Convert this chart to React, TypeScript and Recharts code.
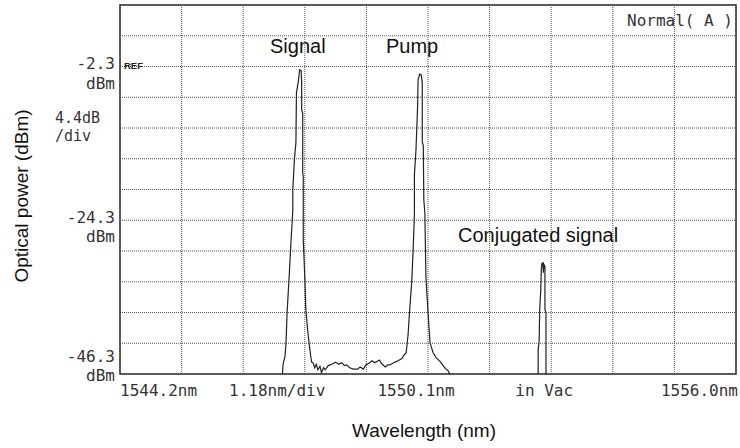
import { CartesianGrid, Line, LineChart, ReferenceArea, XAxis, YAxis } from 'recharts';

// OSA screen: 1544.2 .. 1556.0 nm, 1.18 nm/div ; ref -2.3 dBm, 4.4 dB/div
const X_TICKS = [1544.2, 1545.38, 1546.56, 1547.74, 1548.92, 1550.1, 1551.28, 1552.46, 1553.64, 1554.82, 1556.0];
const X_TICK_LABELS = ['1544.2nm', '', '1.18nm/div', '', '', '1550.1nm', '', 'in Vac', '', '', '1556.0nm'];
const Y_TICKS = [-46.3, -41.9, -37.5, -33.1, -28.7, -24.3, -19.9, -15.5, -11.1, -6.7, -2.3, 2.1, 6.5];
const Y_LABEL_VALUES = [-2.3, -24.3, -46.3];
const REF_LEVEL = -2.3;
const SCALE_TICK = -11.1;
const SCALE_LABEL = ['4.4dB', '/div'];

// [wavelength nm, power dBm]; -48 = under the bottom of the screen
const SIGNAL_PEAK: [number, number][] = [
  [1544.2, -48],
  [1547.3, -48],
  [1547.32, -45.3],
  [1547.33, -44.7],
  [1547.36, -43.8],
  [1547.38, -41.9],
  [1547.4, -37.6],
  [1547.44, -32.4],
  [1547.48, -26.8],
  [1547.51, -22.9],
  [1547.51, -20.0],
  [1547.54, -15.7],
  [1547.57, -13.2],
  [1547.58, -6.1],
  [1547.62, -4.2],
  [1547.64, -2.8],
  [1547.67, -2.9],
  [1547.68, -4.5],
  [1547.68, -8.5],
  [1547.7, -9.0],
  [1547.7, -17.5],
  [1547.71, -18.0],
  [1547.71, -27.0],
  [1547.74, -32.4],
  [1547.76, -37.1],
  [1547.8, -40.4],
  [1547.83, -42.4],
  [1547.87, -44.6],
];

const NOISE_FLOOR: [number, number][] = [
  [1547.9, -44.7],
  [1547.93, -45.4],
  [1547.96, -44.9],
  [1547.99, -45.7],
  [1548.03, -45.2],
  [1548.06, -46.1],
  [1548.1, -45.4],
  [1548.13, -45.7],
  [1548.19, -45.1],
  [1548.26, -44.9],
  [1548.33, -44.6],
  [1548.39, -44.9],
  [1548.45, -44.7],
  [1548.5, -45.1],
  [1548.54, -45.0],
  [1548.6, -45.4],
  [1548.67, -45.6],
  [1548.75, -45.6],
  [1548.8, -45.3],
  [1548.86, -45.6],
  [1548.91, -45.0],
  [1548.96, -44.8],
  [1549.03, -44.4],
  [1549.08, -44.7],
  [1549.12, -44.5],
  [1549.17, -44.3],
  [1549.21, -44.8],
  [1549.28, -45.3],
  [1549.33, -45.0],
  [1549.37, -45.0],
  [1549.44, -44.7],
  [1549.5, -44.5],
  [1549.55, -44.3],
  [1549.6, -44.1],
  [1549.64, -43.6],
  [1549.68, -43.3],
  [1549.7, -42.0],
  [1549.72, -40.5],
];

const PUMP_PEAK: [number, number][] = [
  [1549.74, -38.1],
  [1549.79, -32.9],
  [1549.82, -27.6],
  [1549.84, -23.3],
  [1549.84, -17.8],
  [1549.87, -14.2],
  [1549.9, -8.2],
  [1549.91, -4.2],
  [1549.94, -3.4],
  [1549.97, -3.5],
  [1549.99, -4.6],
  [1549.99, -13.1],
  [1550.01, -13.6],
  [1550.02, -21.4],
  [1550.04, -23.3],
  [1550.06, -32.4],
  [1550.11, -38.6],
  [1550.14, -41.9],
  [1550.2, -43.3],
  [1550.26, -44.0],
  [1550.33, -44.5],
  [1550.38, -45.0],
  [1550.43, -45.5],
  [1550.48, -45.8],
  [1550.51, -46.2],
  [1550.55, -47.0],
  [1550.58, -48],
];

const IDLER_PEAK: [number, number][] = [
  [1552.21, -48],
  [1552.21, -42.9],
  [1552.23, -41.4],
  [1552.24, -37.0],
  [1552.26, -34.3],
  [1552.27, -31.5],
  [1552.28, -30.5],
  [1552.3, -30.4],
  [1552.31, -31.8],
  [1552.32, -30.6],
  [1552.34, -30.9],
  [1552.34, -37.1],
  [1552.36, -37.5],
  [1552.36, -48],
  [1556.0, -48],
];

const traceData = [...SIGNAL_PEAK, ...NOISE_FLOOR, ...PUMP_PEAK, ...IDLER_PEAK].map(([wl, dbm]) => ({ wl, dbm }));

const MONO = '"DejaVu Sans Mono", monospace';
const SANS = '"Liberation Sans", Arial, sans-serif';
const OSA_TEXT = '#333';

const same = (a: number, b: number) => Math.abs(a - b) < 1e-6;

function renderXTick(props: any) {
  const { x, y, index } = props;
  const label = X_TICK_LABELS[index];
  if (!label) return <g />;
  const last = index === X_TICKS.length - 1;
  let anchor: 'start' | 'middle' | 'end' = 'middle';
  let dx = 0;
  if (index === 0) anchor = 'start';
  else if (last) {
    anchor = 'end';
    dx = 2;
  } else if (index === 2) dx = 34;
  else if (index === 5) dx = -12;
  else if (index === 7) dx = -7;
  return (
    <text x={x + dx} y={y + 22} textAnchor={anchor} fontFamily={MONO} fontSize={16} fill={OSA_TEXT}>
      {label}
    </text>
  );
}

function renderYTick(props: any) {
  const { x, y, payload } = props;
  const v = payload.value;
  const parts = [];
  if (Y_LABEL_VALUES.some((l) => same(l, v))) {
    const atBottom = same(v, Y_TICKS[0]);
    parts.push(
      <text key="n" x={x - 5} y={y + (atBottom ? -12 : 2.5)} textAnchor="end" fontFamily={MONO} fontSize={16} fill={OSA_TEXT}>
        {v.toFixed(1)}
      </text>,
      <text key="u" x={x - 5} y={y + (atBottom ? 7 : 22)} textAnchor="end" fontFamily={MONO} fontSize={16} fill={OSA_TEXT}>
        dBm
      </text>,
    );
  }
  if (same(v, REF_LEVEL)) {
    parts.push(
      <text key="r" x={x + 4} y={y + 2.5} fontFamily={SANS} fontSize={9.5} fontWeight="bold" fill="#222">
        REF
      </text>,
    );
  }
  if (same(v, SCALE_TICK)) {
    parts.push(
      <text key="s1" x={x - 65} y={y - 5} fontFamily={MONO} fontSize={15} fill={OSA_TEXT}>
        {SCALE_LABEL[0]}
      </text>,
      <text key="s2" x={x - 65} y={y + 13} fontFamily={MONO} fontSize={15} fill={OSA_TEXT}>
        {SCALE_LABEL[1]}
      </text>,
    );
  }
  return <g>{parts}</g>;
}

export default function App() {
  return (
    <div style={{ position: 'absolute', left: 0, top: 0, width: 740, height: 448, background: '#fff' }}>
      <LineChart width={740} height={448} data={traceData} margin={{ top: 5, right: 4, bottom: 73, left: 119 }}>
        <CartesianGrid stroke="#555" strokeDasharray="1 1" />
        <XAxis
          type="number"
          dataKey="wl"
          domain={[1544.2, 1556.0]}
          ticks={X_TICKS}
          interval={0}
          allowDataOverflow
          height={1}
          axisLine={false}
          tickLine={false}
          tickSize={0}
          tickMargin={0}
          tick={renderXTick}
        />
        <YAxis
          type="number"
          domain={[-46.3, 6.5]}
          ticks={Y_TICKS}
          interval={0}
          allowDataOverflow
          width={1}
          axisLine={false}
          tickLine={false}
          tickSize={0}
          tickMargin={0}
          tick={renderYTick}
        />
        <ReferenceArea
          x1={1544.2}
          x2={1556.0}
          y1={-46.3}
          y2={6.5}
          fill="none"
          fillOpacity={0}
          stroke="#333"
          strokeWidth={1.5}
          ifOverflow="visible"
        />
        <Line
          type="linear"
          dataKey="dbm"
          stroke="#222"
          strokeWidth={1.2}
          dot={false}
          activeDot={false}
          isAnimationActive={false}
        />
      </LineChart>
      <svg width={740} height={448} style={{ position: 'absolute', left: 0, top: 0, pointerEvents: 'none' }}>
        <text x={733} y={26} textAnchor="end" fontFamily={MONO} fontSize={16} fill={OSA_TEXT}>
          Normal( A )
        </text>
        <text x={270} y={53} fontFamily={SANS} fontSize={20} fill="#111">
          Signal
        </text>
        <text x={386} y={53} fontFamily={SANS} fontSize={20} fill="#111">
          Pump
        </text>
        <text x={458} y={242} fontFamily={SANS} fontSize={20} fill="#111">
          Conjugated signal
        </text>
        <text x={424} y={437} textAnchor="middle" fontFamily={SANS} fontSize={19} fill="#111">
          Wavelength (nm)
        </text>
        <text transform="translate(28,196) rotate(-90)" textAnchor="middle" fontFamily={SANS} fontSize={19} fill="#111">
          Optical power (dBm)
        </text>
      </svg>
    </div>
  );
}
